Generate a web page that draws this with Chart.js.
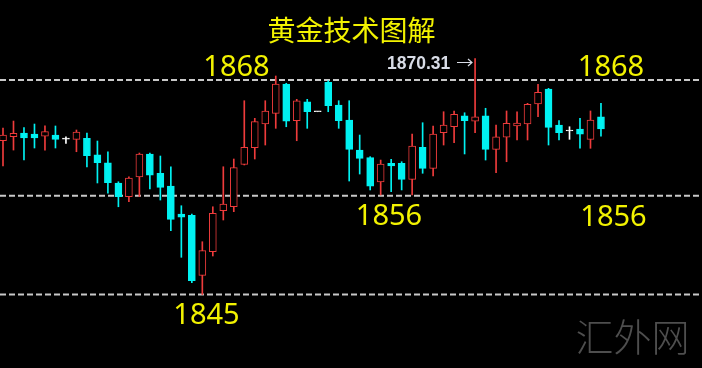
<!DOCTYPE html>
<html>
<head>
<meta charset="utf-8">
<script src="https://cdn.jsdelivr.net/npm/chart.js@4/dist/chart.umd.min.js"></script>
<style>
  html, body { margin: 0; padding: 0; background: #000; }
  #wrap { width: 702px; height: 368px; position: relative; background: #000; }
</style>
</head>
<body>
<div id="wrap"><canvas id="c"></canvas></div>
<script>
// ---- data ----
const opens  = [1861.49,1861.92,1862.32,1862.21,1861.99,1862.10,1861.67,1861.64,1861.75,1859.99,
                1859.13,1856.96,1855.49,1857.60,1860.07,1858.00,1856.63,1853.63,1853.49,1847.06,
                1849.59,1853.98,1854.41,1858.96,1860.74,1863.28,1864.43,1867.57,1863.64,1865.67,
                1864.60,1867.75,1865.32,1863.71,1860.49,1859.67,1857.06,1859.07,1859.07,1857.35,
                1860.78,1858.53,1862.35,1862.99,1864.17,1863.60,1864.17,1860.57,1861.86,1863.07,
                1863.28,1865.43,1867.03,1863.17,1862.53,1862.75,1861.64,1864.06];
const highs  = [1862.85,1863.60,1862.89,1863.28,1863.10,1863.07,1861.92,1862.64,1862.32,1861.46,
                1860.31,1857.09,1857.63,1860.17,1860.17,1859.85,1858.70,1854.52,1853.63,1850.66,
                1854.41,1858.70,1859.53,1865.78,1863.89,1865.78,1868.43,1867.65,1865.93,1865.93,
                1864.60,1867.92,1865.78,1865.78,1862.10,1859.78,1859.42,1859.50,1859.24,1862.21,
                1863.42,1863.07,1864.60,1864.68,1864.49,1870.31,1864.97,1863.17,1864.68,1864.60,
                1865.50,1867.54,1867.11,1863.64,1862.99,1863.89,1864.68,1865.50];
const lows   = [1858.78,1860.49,1859.42,1860.71,1860.49,1860.71,1861.21,1860.31,1858.67,1856.96,
                1855.88,1854.41,1854.95,1855.49,1856.31,1855.13,1851.84,1848.99,1846.26,1845.00,
                1849.13,1852.99,1853.88,1858.89,1859.53,1861.03,1862.82,1862.99,1861.49,1862.82,
                1864.60,1864.60,1862.82,1857.17,1857.92,1856.21,1855.67,1856.02,1856.21,1855.67,
                1858.00,1857.71,1861.03,1861.28,1860.07,1862.35,1859.42,1858.06,1859.24,1861.57,
                1861.57,1864.06,1861.03,1861.57,1861.64,1860.68,1860.68,1861.99];
const closes = [1862.10,1862.28,1861.78,1861.78,1862.46,1861.64,1861.67,1862.42,1859.88,1859.13,
                1856.99,1855.49,1857.49,1860.07,1857.81,1856.49,1853.06,1853.28,1846.48,1849.70,
                1853.71,1854.70,1858.60,1860.78,1863.53,1864.68,1867.57,1863.60,1865.78,1864.60,
                1864.60,1865.24,1863.64,1860.57,1859.60,1856.63,1858.99,1858.78,1857.35,1860.92,
                1858.53,1862.21,1863.17,1864.32,1863.64,1864.06,1860.57,1861.92,1863.36,1863.39,
                1865.39,1866.68,1862.93,1862.35,1862.53,1862.18,1863.71,1862.75];
const levelValues = [1868, 1855.6, 1845];
const levelLabels = ["1868", "1856", "1845"];
const titleText = "黄金技术图解";
const highMarkText = "1870.31";
const watermarkText = "汇外网";

// ---- styles ----
const UP = '#ee3b3b', DOWN = '#00f2f2', DOJI = '#ffffff';
const candleColor = i => closes[i] > opens[i] ? UP : (closes[i] < opens[i] ? DOWN : DOJI);
const idx = opens.map((_, i) => i);

const xMin = -0.286, xMax = 66.63;

const bodies = idx.map(i => ({ x: i, y: [opens[i], closes[i]] }));
const wicks  = idx.map(i => ({ x: i, y: [lows[i], highs[i]] }));

const levelSets = levelValues.map(v => ({
  type: 'line',
  data: [{ x: xMin, y: v }, { x: xMax, y: v }],
  borderColor: '#c8c8c8',
  borderWidth: 2,
  borderDash: [6, 3],
  pointRadius: 0,
  order: 5
}));

const annotate = {
  id: 'annotate',
  afterDatasetsDraw(chart) {
    const ctx = chart.ctx;
    ctx.save();
    // title
    ctx.fillStyle = '#f2f200';
    ctx.textAlign = 'center';
    ctx.textBaseline = 'alphabetic';
    ctx.font = '28px "Noto Sans CJK SC"';
    ctx.fillText(titleText, 351.5, 40.5);
    // level labels
    ctx.font = '29px "Noto Sans"';
    const pos = [
      [levelLabels[0], 236.5, 76], [levelLabels[0], 611, 76],
      [levelLabels[1], 389, 225], [levelLabels[1], 613.5, 226],
      [levelLabels[2], 206.5, 324]
    ];
    pos.forEach(p => ctx.fillText(p[0], p[1], p[2]));
    // high marker
    const xs = chart.scales.x;
    const hx = Math.round(xs.getPixelForValue(45));
    const ay = 62.5;
    ctx.fillStyle = '#d8dce6';
    ctx.textAlign = 'left';
    ctx.font = 'bold 17.5px "Liberation Sans"';
    ctx.fillText(highMarkText, 387, 68.5);
    ctx.strokeStyle = '#d8dce6';
    ctx.lineWidth = 1.2;
    ctx.beginPath();
    ctx.moveTo(457, ay); ctx.lineTo(hx - 3, ay);
    ctx.moveTo(hx - 7, ay - 3.5); ctx.lineTo(hx - 3, ay); ctx.lineTo(hx - 7, ay + 3.5);
    ctx.stroke();
    // watermark
    ctx.fillStyle = '#4e4e4e';
    ctx.textAlign = 'center';
    ctx.font = '300 38px "Noto Sans CJK SC"';
    ctx.fillText(watermarkText, 632.5, 351);
    ctx.restore();
  }
};

new Chart(document.getElementById('c'), {
  type: 'bar',
  data: {
    datasets: [
      {
        data: bodies,
        backgroundColor: idx.map(i => candleColor(i) === UP ? '#000000' : candleColor(i)),
        borderColor: idx.map(candleColor),
        borderWidth: 1,
        borderSkipped: false,
        barThickness: 7,
        minBarLength: 1,
        grouped: false,
        order: 1
      },
      {
        data: wicks,
        backgroundColor: idx.map(candleColor),
        borderWidth: 0,
        barThickness: 1,
        grouped: false,
        order: 2
      },
      ...levelSets
    ]
  },
  options: {
    responsive: true,
    maintainAspectRatio: false,
    animation: false,
    layout: { padding: 0, autoPadding: false },
    plugins: { legend: { display: false }, tooltip: { enabled: false }, title: { display: false } },
    scales: {
      x: { type: 'linear', min: xMin, max: xMax, offset: false, display: false, grid: { offset: false } },
      y: { type: 'linear', min: 1837.12, max: 1876.58, display: false }
    }
  },
  plugins: [annotate]
});
</script>
</body>
</html>
